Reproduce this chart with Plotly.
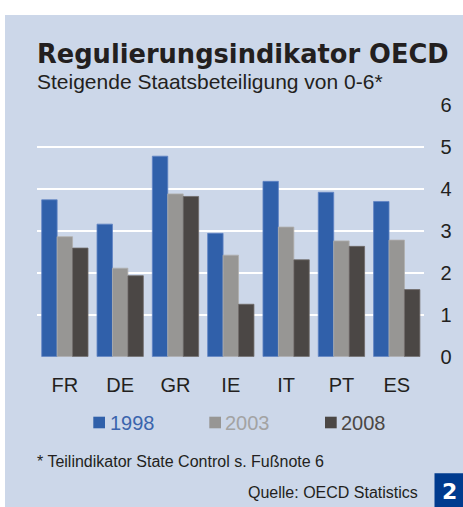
import plotly.graph_objects as go

W, H = 463, 507

countries = ["FR", "DE", "GR", "IE", "IT", "PT", "ES"]
years = ["1998", "2003", "2008"]
v1998 = [3.74, 3.16, 4.78, 2.94, 4.18, 3.92, 3.70]
v2003 = [2.86, 2.11, 3.88, 2.42, 3.09, 2.76, 2.78]
v2008 = [2.59, 1.93, 3.82, 1.25, 2.31, 2.63, 1.60]
y_ticks = [0, 1, 2, 3, 4, 5, 6]

bar_colors = ["#3060aa", "#979694", "#4b4745"]
edge_colors = ["#5f83c4", "#b0afad", "#6e6a68"]
text_colors = ["#3a64ad", "#a3a3a3", "#4b4745"]
ink = "#231f20"
panel = "#ccd7e9"
FONT = "Liberation Sans, Arial, sans-serif"


def px(x):
    return x / W


def py(y):
    return 1 - y / H


fig = go.Figure()
for name, vals, c, e in zip(years, [v1998, v2003, v2008], bar_colors, edge_colors):
    fig.add_trace(go.Bar(x=countries, y=vals, name=name,
                         marker=dict(color=c, line=dict(color=e, width=0.8)),
                         showlegend=False))

shapes = [
    dict(type="rect", xref="paper", yref="paper", x0=px(5), x1=1, y0=0, y1=py(15),
         fillcolor=panel, line=dict(width=0), layer="below"),
    dict(type="rect", xref="paper", yref="paper", x0=px(434.5), x1=1, y0=0, y1=py(473.3),
         fillcolor="#003b8e", line=dict(width=0), layer="above"),
]
annotations = [
    dict(text="<b>Regulierungsindikator OECD</b>", x=px(35), y=py(54), xanchor="left",
         yanchor="middle", showarrow=False, xref="paper", yref="paper",
         font=dict(family="DejaVu Sans", size=25.7, color=ink)),
    dict(text="Steigende Staatsbeteiligung von 0-6*", x=px(35), y=py(81), xanchor="left",
         yanchor="middle", showarrow=False, xref="paper", yref="paper",
         font=dict(family=FONT, size=21, color=ink)),
    dict(text="* Teilindikator State Control s. Fußnote 6", x=px(35), y=py(461),
         xanchor="left", yanchor="middle", showarrow=False, xref="paper", yref="paper",
         font=dict(family=FONT, size=16, color=ink)),
    dict(text="Quelle: OECD Statistics", x=px(420), y=py(492), xanchor="right",
         yanchor="middle", showarrow=False, xref="paper", yref="paper",
         font=dict(family=FONT, size=16, color=ink)),
    dict(text="<b>2</b>", x=px(449), y=py(491), xanchor="center", yanchor="middle",
         showarrow=False, xref="paper", yref="paper",
         font=dict(family="DejaVu Sans", size=22, color="white")),
]

sq_x = [93.3, 209.3, 325]
txt_x = [108, 223, 339]
for i, yr in enumerate(years):
    shapes.append(dict(type="rect", xref="paper", yref="paper", x0=px(sq_x[i]),
                       x1=px(sq_x[i] + 11.7), y0=py(428.3), y1=py(416.7),
                       fillcolor=bar_colors[i], line=dict(width=0)))
    annotations.append(dict(text=yr, x=px(txt_x[i]), y=py(423), xanchor="left",
                            yanchor="middle", showarrow=False, xref="paper", yref="paper",
                            font=dict(family=FONT, size=20, color=text_colors[i])))

fig.update_layout(
    width=W, height=H, autosize=False,
    margin=dict(l=0, r=0, t=0, b=0, pad=0),
    paper_bgcolor="white", plot_bgcolor="rgba(0,0,0,0)",
    barmode="group", bargap=0.163, bargroupgap=0,
    shapes=shapes, annotations=annotations,
    font=dict(family=FONT, size=20, color=ink),
    xaxis=dict(domain=[px(37.2), px(424.4)], showgrid=False, zeroline=False,
               showline=False, ticks="", automargin=False, ticklabelstandoff=14,
               tickfont=dict(size=20, color=ink)),
    yaxis=dict(domain=[py(356.7), py(105)], range=[0, 6], tickvals=y_ticks,
               side="right", showgrid=True, gridcolor="white", gridwidth=2,
               zeroline=False, showline=False, ticks="", automargin=False,
               ticklabelstandoff=15, tickfont=dict(size=20, color=ink)),
)

fig.write_html("out.html", config={"displayModeBar": False},
               post_script="document.body.style.margin='0';document.body.style.overflow='hidden';")
